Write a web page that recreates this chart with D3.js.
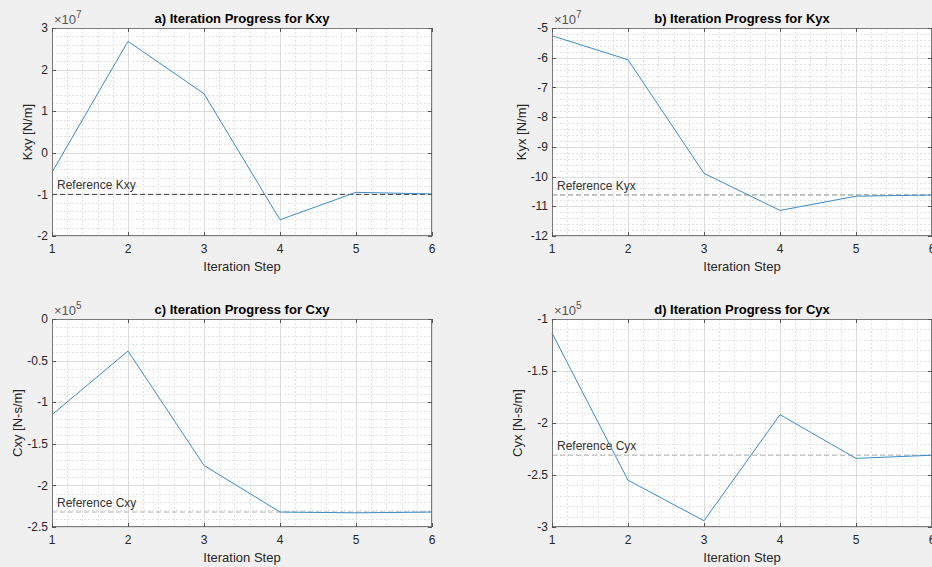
<!DOCTYPE html>
<html>
<head>
<meta charset="utf-8">
<script src="https://cdn.jsdelivr.net/npm/d3@7"></script>
<style>
    body { margin: 0; background: #f0f0f0; }
    svg { display: block; }
    text { font-family: "Liberation Sans", Arial, sans-serif; fill: #262626; }
</style>
</head>
<body>
<div id="fig"></div>
<script>
// 迭代步
var steps = [1, 2, 3, 4, 5, 6];
var xTicks = [1, 2, 3, 4, 5, 6];

// 各参数迭代值 (已除以指数)
var kxyValues = [-0.47, 2.68, 1.42, -1.61, -0.95, -0.99];
var kyxValues = [-5.26, -6.07, -9.89, -11.14, -10.66, -10.62];
var cxyValues = [-1.15, -0.385, -1.76, -2.32, -2.33, -2.32];
var cyxValues = [-1.135, -2.55, -2.94, -1.92, -2.34, -2.31];

// 参考值
var refValues = [-1.0, -10.62, -2.32, -2.31];

// y轴刻度
var kxyTicks = [-2, -1, 0, 1, 2, 3];
var kyxTicks = [-12, -11, -10, -9, -8, -7, -6, -5];
var cxyTicks = [-2.5, -2, -1.5, -1, -0.5, 0];
var cyxTicks = [-3, -2.5, -2, -1.5, -1];

var titles = ["a) Iteration Progress for Kxy", "b) Iteration Progress for Kyx",
    "c) Iteration Progress for Cxy", "d) Iteration Progress for Cyx"];
var yLabels = ["Kxy [N/m]", "Kyx [N/m]", "Cxy [N-s/m]", "Cyx [N-s/m]"];
var refLabels = ["Reference Kxy", "Reference Kyx", "Reference Cxy", "Reference Cyx"];
var exponents = ["7", "7", "5", "5"];

var W = 932, H = 567;
var svg = d3.select("#fig").append("svg")
    .attr("width", W)
    .attr("height", H);

var pw = 380, ph = 208;
var panels = [
    { left: 52, top: 28, values: kxyValues, ticks: kxyTicks, minor: 0.2, refColor: "#404040" },
    { left: 552, top: 28, values: kyxValues, ticks: kyxTicks, minor: 0.2, refColor: "#8c8c8c" },
    { left: 52, top: 319, values: cxyValues, ticks: cxyTicks, minor: 0.1, refColor: "#b4b4b4" },
    { left: 552, top: 319, values: cyxValues, ticks: cyxTicks, minor: 0.1, refColor: "#b4b4b4" }
];

panels.forEach(function (p, i) {
    var g = svg.append("g")
        .attr("transform", "translate(" + p.left + "," + p.top + ")");

    var x = d3.scaleLinear().domain([1, 6]).range([0, pw]);
    var y = d3.scaleLinear().domain(d3.extent(p.ticks)).range([ph, 0]);

    // 坐标区背景
    g.append("rect")
        .attr("width", pw)
        .attr("height", ph)
        .attr("fill", "#ffffff");

    // 次网格线
    var xMinor = d3.range(1, 6.0001, 0.2);
    var y0 = d3.min(p.ticks), y1 = d3.max(p.ticks);
    var yMinor = d3.range(0, Math.round((y1 - y0) / p.minor) + 1).map(function (k) { return y0 + k * p.minor; });
    g.selectAll(".xminor").data(xMinor).enter().append("line")
        .attr("x1", function (d) { return Math.round(x(d)) + 0.5; })
        .attr("x2", function (d) { return Math.round(x(d)) + 0.5; })
        .attr("y1", 0).attr("y2", ph)
        .attr("stroke", "#e2e2e2")
        .attr("stroke-dasharray", "2,2");
    g.selectAll(".yminor").data(yMinor).enter().append("line")
        .attr("y1", function (d) { return Math.round(y(d)) + 0.5; })
        .attr("y2", function (d) { return Math.round(y(d)) + 0.5; })
        .attr("x1", 0).attr("x2", pw)
        .attr("stroke", "#e2e2e2")
        .attr("stroke-dasharray", "2,2");

    // 主网格线
    g.selectAll(".xgrid").data(xTicks).enter().append("line")
        .attr("x1", function (d) { return Math.round(x(d)) + 0.5; })
        .attr("x2", function (d) { return Math.round(x(d)) + 0.5; })
        .attr("y1", 0).attr("y2", ph)
        .attr("stroke", "#dcdcdc");
    g.selectAll(".ygrid").data(p.ticks).enter().append("line")
        .attr("y1", function (d) { return Math.round(y(d)) + 0.5; })
        .attr("y2", function (d) { return Math.round(y(d)) + 0.5; })
        .attr("x1", 0).attr("x2", pw)
        .attr("stroke", "#dcdcdc");

    // 参考线
    var ref = refValues[i];
    g.append("line")
        .attr("x1", 0).attr("x2", pw)
        .attr("y1", y(ref)).attr("y2", y(ref))
        .attr("stroke", p.refColor)
        .attr("stroke-width", 1)
        .attr("stroke-dasharray", "5,3");
    g.append("text")
        .attr("x", 5)
        .attr("y", y(ref) - 5)
        .attr("font-size", 12)
        .style("fill", "#333333")
        .text(refLabels[i]);

    // 迭代曲线
    var line = d3.line()
        .x(function (d, k) { return x(steps[k]); })
        .y(function (d) { return y(d); });
    g.append("path")
        .datum(p.values)
        .attr("d", line)
        .attr("fill", "none")
        .attr("stroke", "#3d8cc6")
        .attr("stroke-width", 1);

    // 边框和刻度
    g.append("rect")
        .attr("x", 0.5).attr("y", 0.5)
        .attr("width", pw - 1).attr("height", ph - 1)
        .attr("fill", "none")
        .attr("stroke", "#7a7a7a");
    xTicks.forEach(function (t) {
        var xx = Math.round(x(t)) + 0.5;
        g.append("line").attr("x1", xx).attr("x2", xx).attr("y1", ph).attr("y2", ph - 4).attr("stroke", "#555");
        g.append("line").attr("x1", xx).attr("x2", xx).attr("y1", 0).attr("y2", 4).attr("stroke", "#555");
    });
    p.ticks.forEach(function (t) {
        var yy = Math.round(y(t)) + 0.5;
        g.append("line").attr("x1", 0).attr("x2", 4).attr("y1", yy).attr("y2", yy).attr("stroke", "#555");
        g.append("line").attr("x1", pw).attr("x2", pw - 4).attr("y1", yy).attr("y2", yy).attr("stroke", "#555");
    });

    // x刻度标签
    g.selectAll(".xlab").data(xTicks).enter().append("text")
        .attr("x", function (d) { return x(d); })
        .attr("y", ph + 17)
        .attr("text-anchor", "middle")
        .attr("font-size", 12)
        .text(function (d) { return d; });

    // y刻度标签
    var ylabs = g.selectAll(".ylab").data(p.ticks).enter().append("text")
        .attr("x", -4)
        .attr("y", function (d) { return y(d); })
        .attr("dy", "0.35em")
        .attr("text-anchor", "end")
        .attr("font-size", 12)
        .text(function (d) { return d; });

    var minX = 0;
    ylabs.each(function () {
        var b = this.getBBox();
        if (b.x < minX) minX = b.x;
    });

    // 轴标签
    g.append("text")
        .attr("x", pw / 2)
        .attr("y", ph + 35)
        .attr("text-anchor", "middle")
        .attr("font-size", 13)
        .text("Iteration Step");
    g.append("text")
        .attr("transform", "translate(" + (minX - 5) + "," + (ph / 2) + ") rotate(-90)")
        .attr("text-anchor", "middle")
        .attr("font-size", 13)
        .text(yLabels[i]);

    // 标题
    g.append("text")
        .attr("x", pw / 2)
        .attr("y", -5)
        .attr("text-anchor", "middle")
        .attr("font-size", 13)
        .attr("font-weight", "bold")
        .style("fill", "#000")
        .text(titles[i]);

    // 指数标记
    var ex = g.append("text")
        .attr("x", 2)
        .attr("y", -4)
        .attr("font-size", 13)
        .style("fill", "#555");
    ex.append("tspan").text("\u00d710");
    ex.append("tspan")
        .attr("dy", -6)
        .attr("font-size", 10)
        .text(exponents[i]);
});
</script>
</body>
</html>
